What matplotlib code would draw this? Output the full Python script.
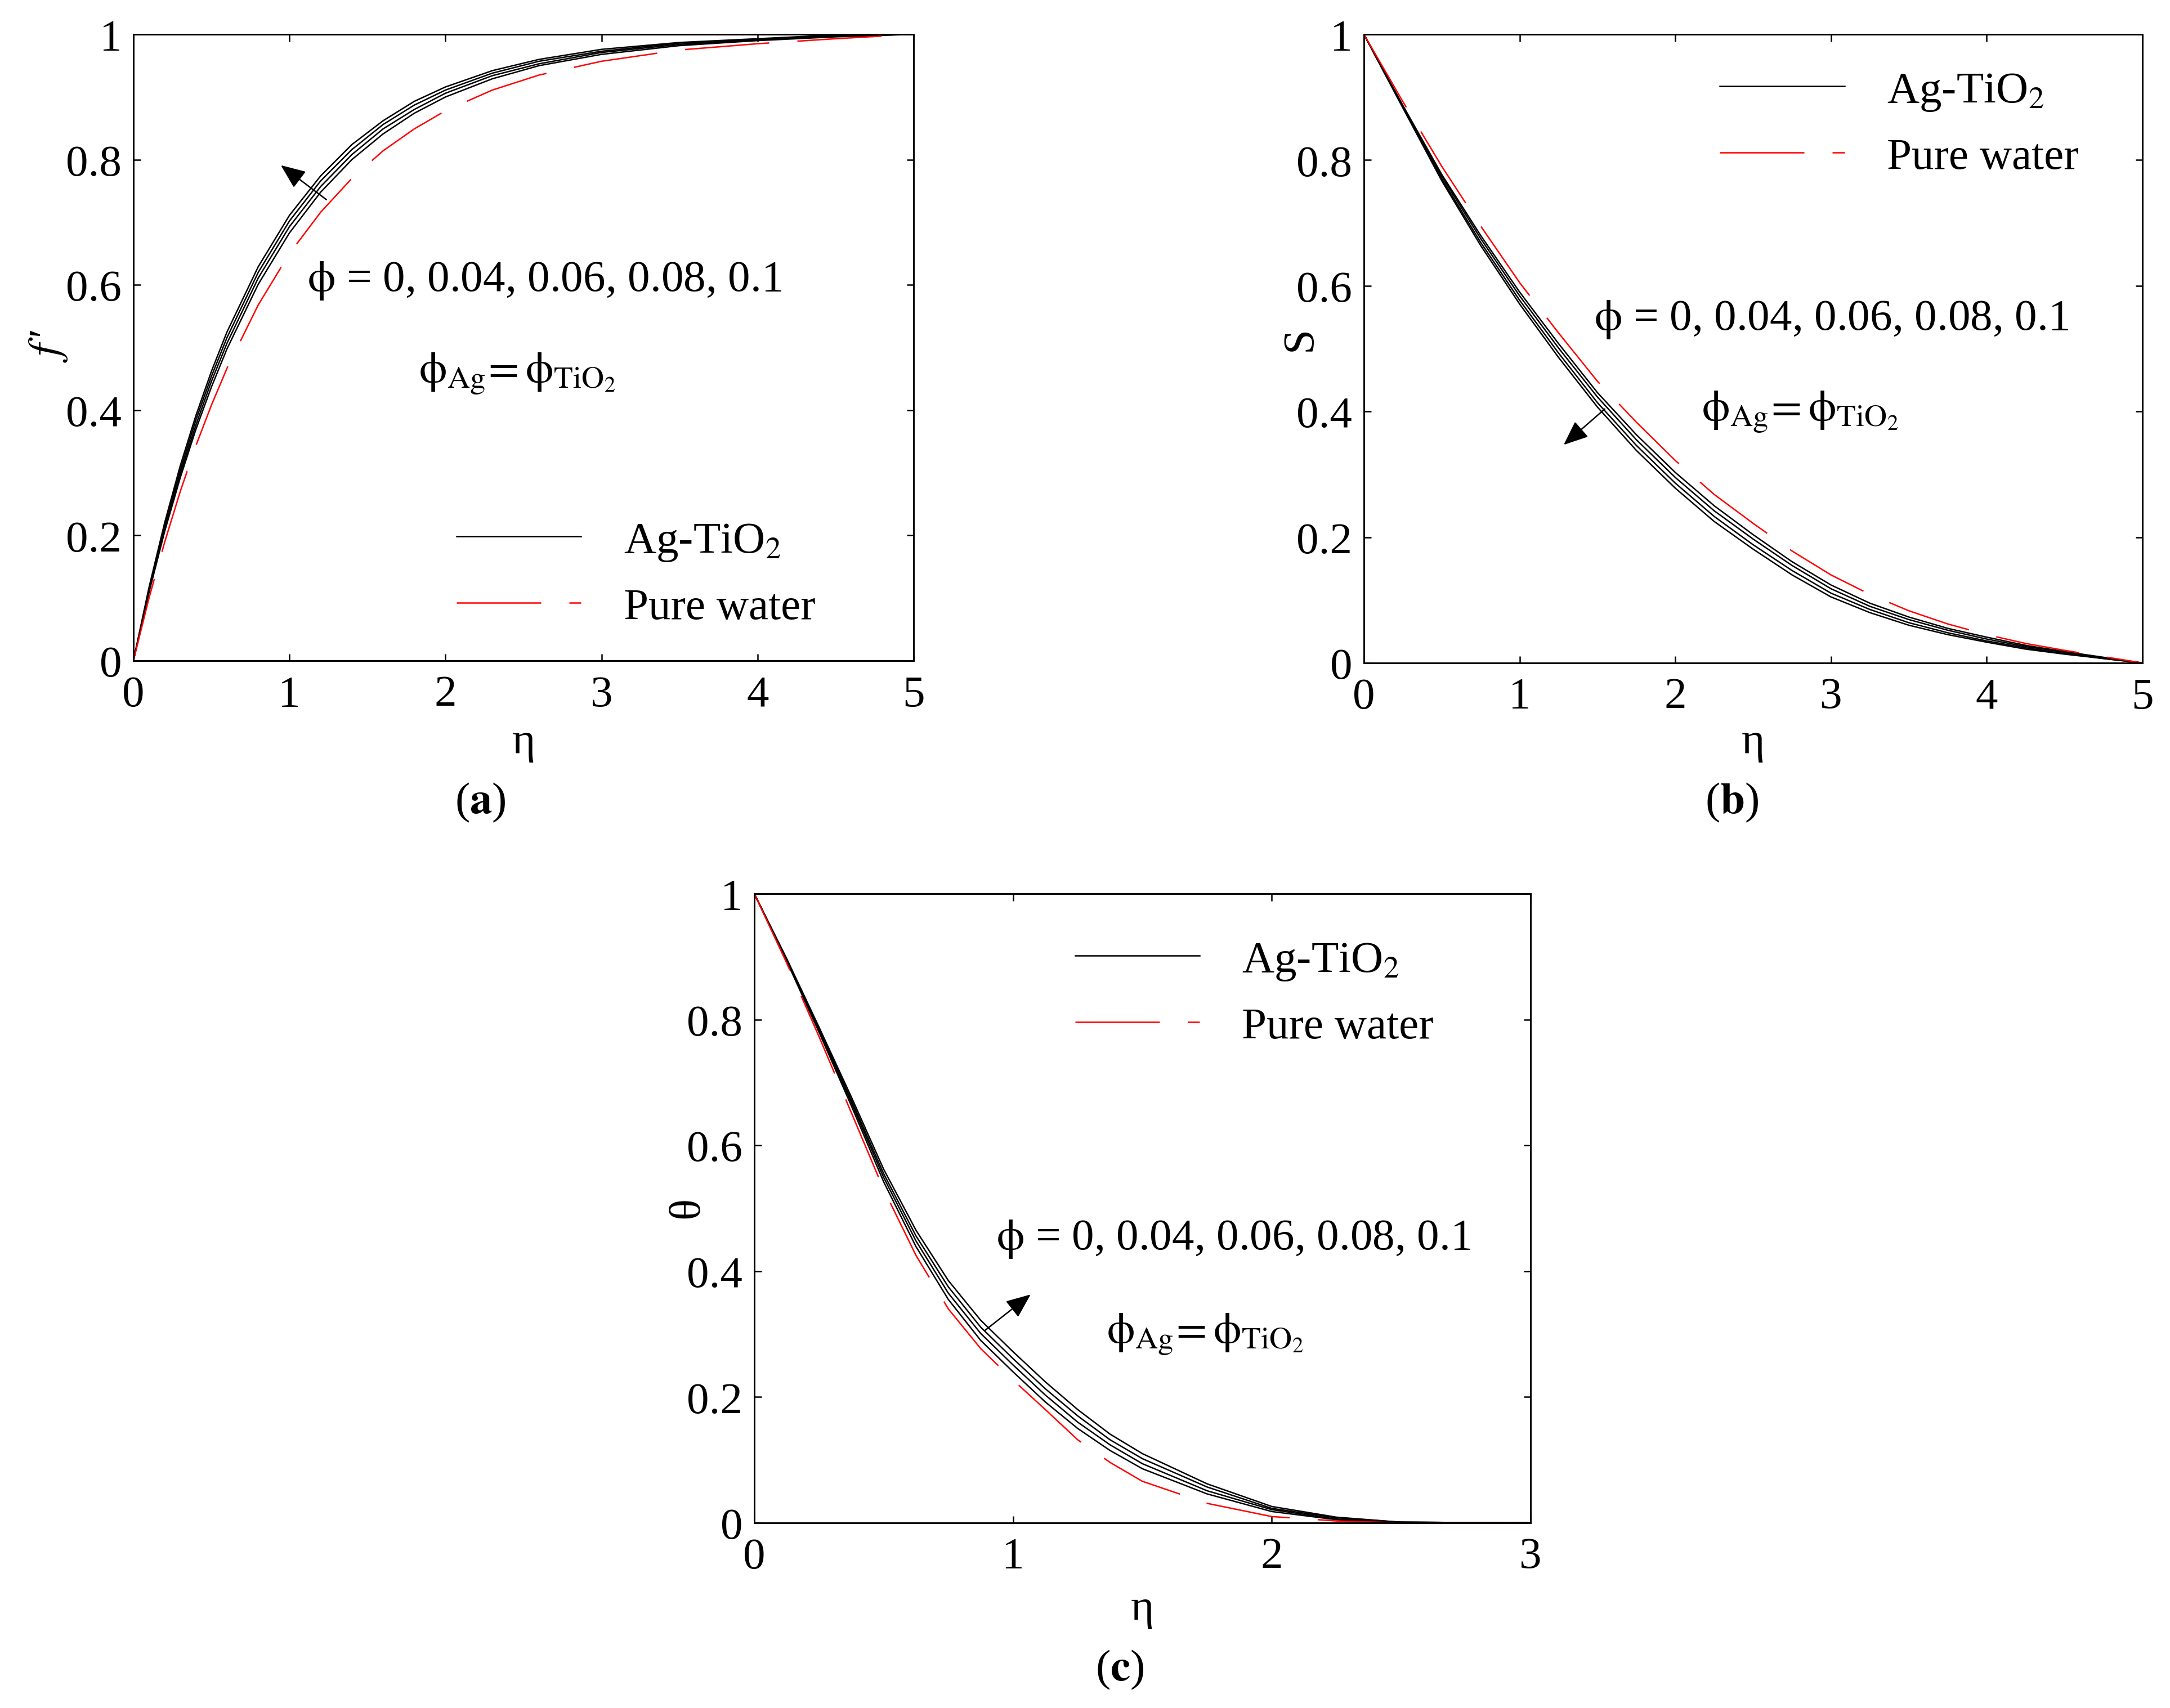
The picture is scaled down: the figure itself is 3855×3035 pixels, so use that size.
import matplotlib
matplotlib.use("Agg")
import matplotlib.pyplot as plt
from matplotlib.ticker import FuncFormatter

plt.rcParams['font.family'] = ['Liberation Serif', 'DejaVu Serif']
plt.rcParams['mathtext.fontset'] = 'stix'
plt.rcParams['lines.scale_dashes'] = False

# ---------------- data ----------------
# (a) velocity profile f'
eta_a = [0, 0.1, 0.2, 0.3, 0.4, 0.5, 0.6, 0.8, 1.0, 1.2, 1.4, 1.6, 1.8, 2.0, 2.3, 2.6, 3.0, 3.5, 4.0, 4.5, 5.0]
fp_hybrid = [
    [0, 0.109, 0.206, 0.292, 0.369, 0.437, 0.498, 0.601, 0.683, 0.748, 0.800, 0.841, 0.874, 0.900, 0.929, 0.950, 0.968, 0.982, 0.990, 0.996, 1.0],
    [0, 0.111, 0.210, 0.298, 0.376, 0.446, 0.507, 0.611, 0.693, 0.757, 0.808, 0.849, 0.880, 0.906, 0.934, 0.953, 0.971, 0.984, 0.991, 0.997, 1.0],
    [0, 0.114, 0.215, 0.304, 0.384, 0.454, 0.516, 0.620, 0.702, 0.766, 0.816, 0.856, 0.887, 0.911, 0.938, 0.957, 0.973, 0.986, 0.992, 0.998, 1.0],
    [0, 0.117, 0.220, 0.311, 0.391, 0.462, 0.525, 0.629, 0.711, 0.774, 0.824, 0.862, 0.893, 0.916, 0.942, 0.960, 0.976, 0.987, 0.993, 0.999, 1.0],
]
fp_water = [0, 0.100, 0.189, 0.270, 0.343, 0.408, 0.467, 0.568, 0.650, 0.716, 0.770, 0.814, 0.849, 0.878, 0.911, 0.935, 0.957, 0.975, 0.985, 0.993, 1.0]

# (b) S profile
eta_b = [0, 0.25, 0.5, 0.75, 1.0, 1.25, 1.5, 1.75, 2.0, 2.25, 2.5, 2.75, 3.0, 3.25, 3.5, 3.75, 4.0, 4.25, 4.5, 4.75, 5.0]
S_hybrid = [
    [1.0, 0.887, 0.777, 0.680, 0.590, 0.508, 0.430, 0.363, 0.303, 0.250, 0.204, 0.161, 0.124, 0.095, 0.073, 0.055, 0.041, 0.028, 0.018, 0.009, 0.0],
    [1.0, 0.886, 0.774, 0.675, 0.584, 0.501, 0.423, 0.355, 0.295, 0.242, 0.197, 0.155, 0.118, 0.090, 0.069, 0.052, 0.038, 0.026, 0.017, 0.008, 0.0],
    [1.0, 0.884, 0.770, 0.669, 0.577, 0.493, 0.414, 0.346, 0.286, 0.233, 0.188, 0.147, 0.111, 0.085, 0.064, 0.048, 0.035, 0.024, 0.015, 0.007, 0.0],
    [1.0, 0.883, 0.767, 0.664, 0.571, 0.486, 0.407, 0.338, 0.278, 0.225, 0.181, 0.140, 0.105, 0.080, 0.060, 0.045, 0.033, 0.022, 0.014, 0.007, 0.0],
]
S_water = [1.0, 0.893, 0.790, 0.695, 0.605, 0.525, 0.448, 0.383, 0.322, 0.268, 0.222, 0.178, 0.140, 0.109, 0.083, 0.062, 0.045, 0.031, 0.020, 0.010, 0.0]

# (c) temperature profile
eta_c = [0, 0.125, 0.25, 0.375, 0.5, 0.625, 0.75, 0.875, 1.0, 1.125, 1.25, 1.375, 1.5, 1.75, 2.0, 2.25, 2.5, 3.0]
theta_hybrid = [
    [1.0, 0.893, 0.780, 0.663, 0.542, 0.439, 0.355, 0.290, 0.240, 0.192, 0.150, 0.115, 0.086, 0.046, 0.018, 0.005, 0.001, 0.0],
    [1.0, 0.894, 0.783, 0.668, 0.549, 0.448, 0.365, 0.301, 0.251, 0.203, 0.160, 0.124, 0.094, 0.051, 0.021, 0.006, 0.001, 0.0],
    [1.0, 0.896, 0.785, 0.672, 0.555, 0.456, 0.375, 0.311, 0.261, 0.213, 0.170, 0.132, 0.102, 0.057, 0.023, 0.008, 0.001, 0.0],
    [1.0, 0.897, 0.788, 0.677, 0.562, 0.465, 0.385, 0.322, 0.272, 0.224, 0.180, 0.141, 0.110, 0.062, 0.026, 0.009, 0.001, 0.0],
]
theta_water = [1.0, 0.890, 0.773, 0.652, 0.530, 0.425, 0.340, 0.277, 0.227, 0.180, 0.132, 0.096, 0.066, 0.031, 0.010, 0.003, 0.0, 0.0]

legend_labels = ['Ag-TiO$_2$', 'Pure water']
phi_text = r'$\mathrm{\phi}$ = 0, 0.04, 0.06, 0.08, 0.1'
phi_eq_text = r'$\mathrm{\phi_{Ag}\!= \phi_{TiO_2}}$'

FS = 19
W, H = 3855, 3036
fig = plt.figure(figsize=(W / 300, H / 300), dpi=300)


def px_axes(l, t, r, b):
    return fig.add_axes([l / W, 1 - b / H, (r - l) / W, (b - t) / H])


def style(ax, xmax, xticks):
    ax.set_xlim(0, xmax)
    ax.set_ylim(0, 1)
    ax.set_xticks(xticks)
    ax.set_yticks([0, 0.2, 0.4, 0.6, 0.8, 1.0])
    fmt = FuncFormatter(lambda v, p: ('%g' % round(v, 3)))
    ax.xaxis.set_major_formatter(fmt)
    ax.yaxis.set_major_formatter(fmt)
    ax.tick_params(direction='in', top=True, right=True, length=3, width=0.6,
                   labelsize=FS, pad=6)
    ax.tick_params(axis='y', pad=5)
    for s in ax.spines.values():
        s.set_linewidth(0.7)


def curves(ax, x, hyb, water):
    hl = None
    for ys in hyb:
        (hl,) = ax.plot(x, ys, color='k', lw=0.6)
    (wl,) = ax.plot(x, water, color='r', lw=0.6, dashes=(36, 12))
    return hl, wl


def legend(ax, hl, wl, x0, yc):
    ax.legend([hl, wl], legend_labels, loc='center left', bbox_to_anchor=(x0, yc),
              frameon=False, fontsize=FS, handlelength=2.8, handletextpad=0.95,
              labelspacing=0.55, borderpad=0, borderaxespad=0)


def arrow(ax, tail, head):
    ax.annotate('', xy=head, xytext=tail,
                arrowprops=dict(arrowstyle='-|>,head_length=0.6,head_width=0.25',
                                color='k', lw=0.6, mutation_scale=15,
                                shrinkA=0, shrinkB=0))


# (a)
axa = px_axes(237, 62, 1623, 1175)
style(axa, 5, [0, 1, 2, 3, 4, 5])
hl, wl = curves(axa, eta_a, fp_hybrid, fp_water)
legend(axa, hl, wl, 0.414, 0.138)
axa.text(1.115, 0.607, phi_text, fontsize=FS, va='center', ha='left')
axa.text(1.83, 0.459, phi_eq_text, fontsize=FS, va='center', ha='left')
arrow(axa, (1.237, 0.736), (0.945, 0.791))
axa.set_xlabel('η', fontsize=FS, va='center')
axa.xaxis.set_label_coords(0.5, -0.130)
axa.set_ylabel(r"$f\,$′", fontsize=FS, va='center')
axa.yaxis.set_label_coords(-0.109, 0.503)

# (b)
axb = px_axes(2423, 62, 3806, 1179)
style(axb, 5, [0, 1, 2, 3, 4, 5])
hl, wl = curves(axb, eta_b, S_hybrid, S_water)
legend(axb, hl, wl, 0.457, 0.857)
axb.text(1.479, 0.547, phi_text, fontsize=FS, va='center', ha='left')
axb.text(2.17, 0.40, phi_eq_text, fontsize=FS, va='center', ha='left')
arrow(axb, (1.547, 0.404), (1.283, 0.347))
axb.set_xlabel('η', fontsize=FS, va='center')
axb.xaxis.set_label_coords(0.5, -0.126)
axb.set_ylabel('S', fontsize=FS, va='center')
axb.yaxis.set_label_coords(-0.0817, 0.517)

# (c)
axc = px_axes(1340, 1589, 2719, 2707)
style(axc, 3, [0, 1, 2, 3])
hl, wl = curves(axc, eta_c, theta_hybrid, theta_water)
legend(axc, hl, wl, 0.413, 0.841)
axc.text(0.935, 0.452, phi_text, fontsize=FS, va='center', ha='left')
axc.text(1.362, 0.30, phi_eq_text, fontsize=FS, va='center', ha='left')
arrow(axc, (0.892, 0.306), (1.068, 0.363))
axc.set_xlabel('η', fontsize=FS, va='center')
axc.xaxis.set_label_coords(0.5, -0.136)
axc.set_ylabel('θ', fontsize=FS, va='center')
axc.yaxis.set_label_coords(-0.0856, 0.502)

fig.text(853 / W, 1 - 1426 / H, r'($\mathbf{a}$)', fontsize=FS, ha='center', va='center')
fig.text(3077 / W, 1 - 1426 / H, r'($\mathbf{b}$)', fontsize=FS, ha='center', va='center')
fig.text(1989 / W, 1 - 2967 / H, r'($\mathbf{c}$)', fontsize=FS, ha='center', va='center')

fig.savefig('out.png', dpi=300, facecolor='white')
